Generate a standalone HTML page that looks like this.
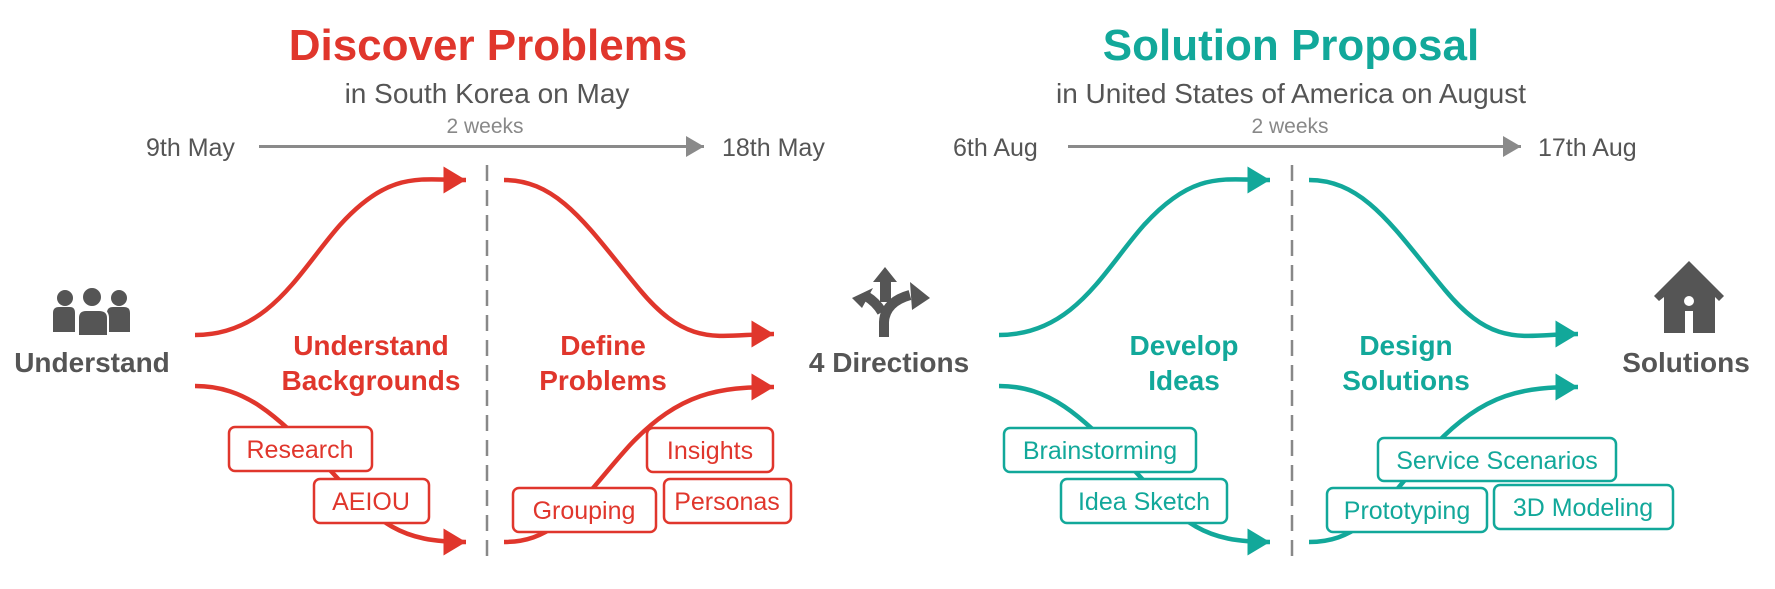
<!DOCTYPE html>
<html><head><meta charset="utf-8"><style>
html,body{margin:0;padding:0;background:#fff;}
svg{display:block;font-family:"Liberation Sans",Arial,sans-serif;}
</style></head><body>
<svg width="1775" height="589" viewBox="0 0 1775 589" xmlns="http://www.w3.org/2000/svg">
<defs>
<marker id="mr" markerWidth="6" markerHeight="6" refX="5" refY="3" orient="auto" markerUnits="strokeWidth"><path d="M0,0 L5,3 L0,6 z" fill="#e0362c"/></marker>
<marker id="mt" markerWidth="6" markerHeight="6" refX="5" refY="3" orient="auto" markerUnits="strokeWidth"><path d="M0,0 L5,3 L0,6 z" fill="#12a89a"/></marker>
<marker id="mg" markerWidth="7" markerHeight="7" refX="6" refY="3.5" orient="auto" markerUnits="strokeWidth"><path d="M0,0 L6,3.5 L0,7 z" fill="#8a8a8a"/></marker>
</defs>

<!-- Titles -->
<text x="488" y="60" text-anchor="middle" font-size="44" font-weight="bold" fill="#e0362c">Discover Problems</text>
<text x="487" y="103" text-anchor="middle" font-size="28" fill="#555">in South Korea on May</text>
<text x="485" y="133" text-anchor="middle" font-size="21" fill="#888">2 weeks</text>
<text x="146" y="156" font-size="25" fill="#555">9th May</text>
<text x="722" y="156" font-size="25" fill="#555">18th May</text>
<line x1="259" y1="146.5" x2="704" y2="146.5" stroke="#8a8a8a" stroke-width="3" marker-end="url(#mg)"/>

<text x="1291" y="60" text-anchor="middle" font-size="44" font-weight="bold" fill="#12a89a">Solution Proposal</text>
<text x="1291" y="103" text-anchor="middle" font-size="28" fill="#555">in United States of America on August</text>
<text x="1290" y="133" text-anchor="middle" font-size="21" fill="#888">2 weeks</text>
<text x="953" y="156" font-size="25" fill="#555">6th Aug</text>
<text x="1538" y="156" font-size="25" fill="#555">17th Aug</text>
<line x1="1068" y1="146.5" x2="1521" y2="146.5" stroke="#8a8a8a" stroke-width="3" marker-end="url(#mg)"/>

<!-- dashed lines -->
<line x1="487" y1="165" x2="487" y2="558" stroke="#888" stroke-width="2.5" stroke-dasharray="16,9"/>
<line x1="1292" y1="165" x2="1292" y2="558" stroke="#888" stroke-width="2.5" stroke-dasharray="16,9"/>

<!-- red curves -->
<g fill="none" stroke="#e0362c" stroke-width="4.5">
<path d="M195,335 C270,335 300,270 340,225 C390,170 420,180 466,180" marker-end="url(#mr)"/>
<path d="M504,180 C560,180 590,230 640,290 C690,350 720,334 774,334" marker-end="url(#mr)"/>
<path d="M195,386 C250,386 280,420 330,470 C380,525 400,542 466,542" marker-end="url(#mr)"/>
<path d="M504,542 C560,542 580,500 630,445 C680,392 720,387 774,387" marker-end="url(#mr)"/>
</g>
<!-- teal curves -->
<g fill="none" stroke="#12a89a" stroke-width="4.5">
<path d="M999,335 C1074,335 1104,270 1144,225 C1194,170 1224,180 1270,180" marker-end="url(#mt)"/>
<path d="M1309,180 C1365,180 1395,230 1445,290 C1495,350 1525,334 1578,334" marker-end="url(#mt)"/>
<path d="M999,386 C1054,386 1084,420 1134,470 C1184,525 1204,542 1270,542" marker-end="url(#mt)"/>
<path d="M1309,542 C1365,542 1385,500 1435,445 C1485,392 1525,387 1578,387" marker-end="url(#mt)"/>
</g>

<!-- red boxes -->
<g fill="#fff" stroke="#e0362c" stroke-width="2.5">
<rect x="229" y="427" width="143" height="44" rx="6"/>
<rect x="314" y="479" width="115" height="44" rx="6"/>
<rect x="513" y="488" width="143" height="44" rx="6"/>
<rect x="647" y="428" width="126" height="44" rx="6"/>
<rect x="664" y="479" width="127" height="44" rx="6"/>
</g>
<g fill="#e0362c" font-size="25" text-anchor="middle">
<text x="300" y="458">Research</text>
<text x="371" y="510">AEIOU</text>
<text x="584" y="519">Grouping</text>
<text x="710" y="459">Insights</text>
<text x="727" y="510">Personas</text>
</g>
<!-- teal boxes -->
<g fill="#fff" stroke="#12a89a" stroke-width="2.5">
<rect x="1004" y="428" width="192" height="44" rx="6"/>
<rect x="1061" y="479" width="166" height="44" rx="6"/>
<rect x="1378" y="438" width="238" height="43" rx="6"/>
<rect x="1327" y="488" width="160" height="44" rx="6"/>
<rect x="1494" y="485" width="179" height="44" rx="6"/>
</g>
<g fill="#12a89a" font-size="25" text-anchor="middle">
<text x="1100" y="459">Brainstorming</text>
<text x="1144" y="510">Idea Sketch</text>
<text x="1497" y="469">Service Scenarios</text>
<text x="1407" y="519">Prototyping</text>
<text x="1583" y="516">3D Modeling</text>
</g>

<!-- phase labels -->
<g font-size="28" font-weight="bold" text-anchor="middle" fill="#e0362c">
<text x="371" y="355">Understand</text>
<text x="371" y="390">Backgrounds</text>
<text x="603" y="355">Define</text>
<text x="603" y="390">Problems</text>
</g>
<g font-size="28" font-weight="bold" text-anchor="middle" fill="#12a89a">
<text x="1184" y="355">Develop</text>
<text x="1184" y="390">Ideas</text>
<text x="1406" y="355">Design</text>
<text x="1406" y="390">Solutions</text>
</g>

<!-- node labels -->
<g font-size="28" font-weight="bold" fill="#555" text-anchor="middle">
<text x="92" y="372">Understand</text>
<text x="889" y="372">4 Directions</text>
<text x="1686" y="372">Solutions</text>
</g>

<!-- people icon -->
<g fill="#555">
<circle cx="65" cy="298" r="8"/>
<path d="M53,313 Q53,307 59,307 L70,307 Q75,307 75,313 L75,332 L53,332 z"/>
<circle cx="119" cy="298" r="8"/>
<path d="M107,313 Q107,307 113,307 L124,307 Q130,307 130,313 L130,332 L107,332 z"/>
<circle cx="92" cy="297" r="10" stroke="#fff" stroke-width="2"/>
<path d="M78,318 Q78,310 86,310 L99,310 Q108,310 108,318 L108,336 L78,336 z" stroke="#fff" stroke-width="2"/>
</g>

<!-- directions icon -->
<g fill="#555" stroke="#555">
<path d="M885,267 L897,282 L891,282 L891,302 L880,302 L880,282 L873,282 z" stroke="none"/>
<path d="M866,296 Q876,302 882,312" fill="none" stroke-width="10"/>
<path d="M852,298 L873,288 L862,308 z" stroke="none"/>
<path d="M884,337 L884,322 Q885,302 910,295" fill="none" stroke-width="10"/>
<path d="M930,298 L910,282 L912,310 z" stroke="none"/>
</g>

<!-- house icon -->
<g fill="#555">
<path d="M1689,261 L1724,296 L1719,301 L1715,297 L1715,333 L1664,333 L1664,297 L1659,301 L1654,296 z"/>
<circle cx="1689" cy="301" r="5" fill="#fff"/>
<rect x="1685" y="311" width="8" height="22" fill="#fff"/>
</g>
</svg>
</body></html>
